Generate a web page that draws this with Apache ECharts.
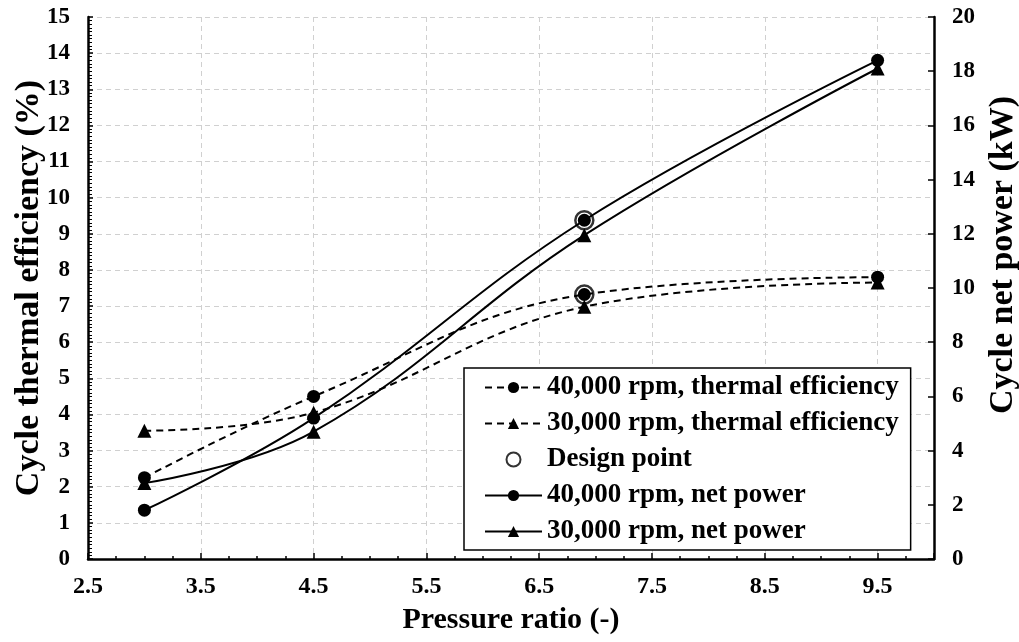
<!DOCTYPE html>
<html>
<head>
<meta charset="utf-8">
<script src="https://cdn.jsdelivr.net/npm/echarts@6/dist/echarts.min.js"></script>
<style>html,body{margin:0;padding:0;background:#fff}#c{width:1019px;height:642px}</style>
</head>
<body>
<div id="c"></div>
<script>
// ---- data ----
const pressureRatio = [3.0, 4.5, 6.9, 9.5];
const eff40k = [2.25, 4.5, 7.32, 7.8];      // % (left axis)
const eff30k = [3.55, 4.05, 6.98, 7.65];    // % (left axis)
const power40k = [1.8, 5.2, 12.5, 18.4];    // kW (right axis)
const power30k = [2.8, 4.7, 11.95, 18.1];   // kW (right axis)
const designX = [6.9];
const designEff = [7.32];
const designPower = [12.5];
const legendNames = ['40,000 rpm, thermal efficiency', '30,000 rpm, thermal efficiency', 'Design point', '40,000 rpm, net power', '30,000 rpm, net power'];

const pair = (xs, ys) => xs.map((x, i) => [x, ys[i]]);
const FONT = 'Liberation Serif';
const chart = echarts.init(document.getElementById('c'), null, {renderer: 'canvas'});

const lineBase = (name, data, yIdx, symbol, dashed) => ({
  name, type: 'line', yAxisIndex: yIdx, data,
  smooth: 0.4,
  symbol, symbolSize: symbol === 'triangle' ? 14 : 13,
  itemStyle: {color: '#000'},
  lineStyle: {color: '#000', width: 2, type: dashed ? [7, 5] : 'solid'},
  z: 3
});

chart.setOption({
  animation: false,
  backgroundColor: '#fff',
  grid: {left: 88, right: 85, top: 17, bottom: 83, containLabel: false, outerBoundsMode: 'none'},
  legend: {
    data: legendNames,
    orient: 'vertical',
    left: 464, top: 368,
    padding: [6, 12, 5, 20],
    itemGap: 9,
    itemWidth: 57, itemHeight: 14,
    backgroundColor: '#fff',
    borderColor: '#000', borderWidth: 1.5, borderRadius: 0,
    textStyle: {fontFamily: FONT, fontWeight: 'bold', fontSize: 27, color: '#000'},
    z: 10
  },
  xAxis: {
    type: 'value', min: 2.5, max: 10, interval: 1,
    name: 'Pressure ratio (-)', nameLocation: 'middle', nameGap: 46,
    nameTextStyle: {fontFamily: FONT, fontWeight: 'bold', fontSize: 30, color: '#000'},
    axisLine: {onZero: false, lineStyle: {color: '#000', width: 2.5}},
    axisTick: {inside: true, length: 6, lineStyle: {color: '#000', width: 1.5}},
    minorTick: {show: true, splitNumber: 4, length: 3, lineStyle: {color: '#000', width: 1.5}},
    axisLabel: {fontFamily: FONT, fontWeight: 'bold', fontSize: 24, color: '#000', margin: 16, showMaxLabel: false,
      formatter: v => v.toFixed(1)},
    splitLine: {show: true, lineStyle: {color: '#d0d0d0', type: [5, 4], width: 1}}
  },
  yAxis: [{
    type: 'value', min: 0, max: 15, interval: 1, position: 'left',
    name: 'Cycle thermal efficiency (%)', nameLocation: 'middle', nameGap: 42, nameMoveOverlap: false,
    nameTextStyle: {fontFamily: FONT, fontWeight: 'bold', fontSize: 34, color: '#000'},
    axisLine: {show: true, lineStyle: {color: '#000', width: 2.5}},
    axisTick: {show: true, inside: true, length: 5, lineStyle: {color: '#000', width: 1.5}},
    minorTick: {show: true, splitNumber: 10, length: 4, lineStyle: {color: '#000', width: 1}},
    axisLabel: {fontFamily: FONT, fontWeight: 'bold', fontSize: 23, color: '#000', margin: 18},
    splitLine: {show: true, lineStyle: {color: '#d0d0d0', type: [5, 4], width: 1}}
  }, {
    type: 'value', min: 0, max: 20, interval: 2, position: 'right',
    name: 'Cycle net power (kW)', nameLocation: 'middle', nameGap: 50, nameRotate: 90,
    nameTextStyle: {fontFamily: FONT, fontWeight: 'bold', fontSize: 34, color: '#000', padding: [0, 0, 0, 66]},
    axisLine: {show: true, lineStyle: {color: '#000', width: 2.5}},
    axisTick: {show: true, inside: true, length: 6, lineStyle: {color: '#000', width: 1.5}},
    axisLabel: {fontFamily: FONT, fontWeight: 'bold', fontSize: 23, color: '#000', margin: 18},
    splitLine: {show: false}
  }],
  series: [
    lineBase(legendNames[0], pair(pressureRatio, eff40k), 0, 'circle', true),
    lineBase(legendNames[1], pair(pressureRatio, eff30k), 0, 'triangle', true),
    lineBase(legendNames[3], pair(pressureRatio, power40k), 1, 'circle', false),
    lineBase(legendNames[4], pair(pressureRatio, power30k), 1, 'triangle', false),
    {name: legendNames[2], type: 'scatter', yAxisIndex: 0, data: pair(designX, designEff),
     symbol: 'circle', symbolSize: 18,
     itemStyle: {color: 'rgba(0,0,0,0)', borderColor: '#000', borderWidth: 2.5}, z: 5},
    {name: legendNames[2], type: 'scatter', yAxisIndex: 1, data: pair(designX, designPower),
     symbol: 'circle', symbolSize: 18,
     itemStyle: {color: 'rgba(0,0,0,0)', borderColor: '#000', borderWidth: 2.5}, z: 5}
  ]
});
</script>
</body>
</html>
